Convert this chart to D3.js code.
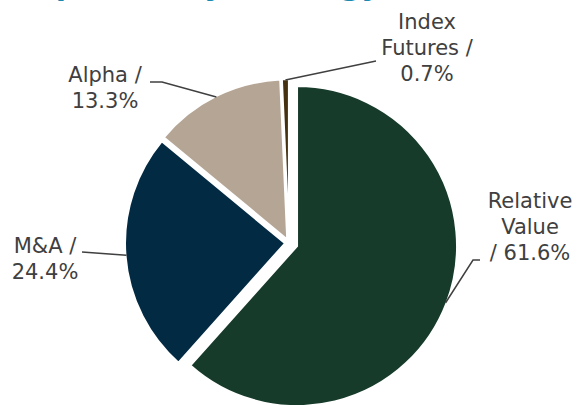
<!DOCTYPE html>
<html lang="en">
<head>
    <meta charset="UTF-8">
    <title>Exposure by Strategy</title>
    <script src="https://d3js.org/d3.v7.min.js"></script>
    <style>
        body {
            margin: 0;
            background: #fff;
            font-family: "DejaVu Sans", Verdana, sans-serif;
        }
    </style>
</head>
<body>
    <svg id="chart"></svg>
    <script>
        // Chart data
        const categories = ["Relative Value", "M&A", "Alpha", "Index Futures"];
        const values = [61.6, 24.4, 13.3, 0.7];
        const labelLines = [
            ["Relative", "Value", "/ 61.6%"],
            ["M&A /", "24.4%"],
            ["Alpha /", "13.3%"],
            ["Index", "Futures /", "0.7%"]
        ];
        const colors = ["#173b2a", "#032a43", "#b5a595", "#45300f"];
        const explode = [8.6, 4, 4, 4];

        // label layout: text centre x, first baseline y, elbow points
        const labelPos = [
            { x: 530, y: 208, elbow: [[480, 260], [473, 260]] },
            { x: 45, y: 253, elbow: [[82, 252]] },
            { x: 105, y: 82, elbow: [[150, 82], [162, 82]] },
            { x: 427, y: 29, elbow: [[376, 61]] }
        ];

        const width = 580;
        const height = 405;
        const cx = 289, cy = 243, radius = 160;

        const svg = d3.select("#chart")
            .attr("width", width)
            .attr("height", height);

        // Title (cut off at the top in the source image)
        svg.append("text")
            .attr("x", 16)
            .attr("y", -5)
            .attr("fill", "#1b8ab0")
            .attr("font-size", 30)
            .attr("font-weight", "bold")
            .text("Exposure by Strategy");

        const pie = d3.pie().sort(null).value(d => d);
        const arcs = pie(values);
        const arc = d3.arc().innerRadius(0).outerRadius(radius);

        const g = svg.append("g").attr("transform", `translate(${cx},${cy})`);

        function offset(d, i) {
            const a = (d.startAngle + d.endAngle) / 2;
            return [Math.sin(a) * explode[i], -Math.cos(a) * explode[i]];
        }

        g.selectAll("path")
            .data(arcs)
            .enter()
            .append("path")
            .attr("d", arc)
            .attr("transform", (d, i) => `translate(${offset(d, i)})`)
            .attr("fill", (d, i) => colors[i])
            .attr("stroke", "#fff")
            .attr("stroke-width", 2);

        // Leader lines from slice edge to label
        arcs.forEach((d, i) => {
            const a = (d.startAngle + d.endAngle) / 2;
            const o = offset(d, i);
            const edge = [cx + o[0] + Math.sin(a) * (radius - 1), cy + o[1] - Math.cos(a) * (radius - 1)];
            const pts = labelPos[i].elbow.concat([edge]);
            svg.append("path")
                .attr("d", d3.line()(pts))
                .attr("fill", "none")
                .attr("stroke", "#404040")
                .attr("stroke-width", 1.5);
        });

        // Labels
        labelLines.forEach((lines, i) => {
            const t = svg.append("text")
                .attr("text-anchor", "middle")
                .attr("fill", "#404040")
                .attr("font-size", 21);
            lines.forEach((s, j) => {
                t.append("tspan")
                    .attr("x", labelPos[i].x)
                    .attr("y", labelPos[i].y + j * 26)
                    .text(s);
            });
        });
    </script>
</body>
</html>
